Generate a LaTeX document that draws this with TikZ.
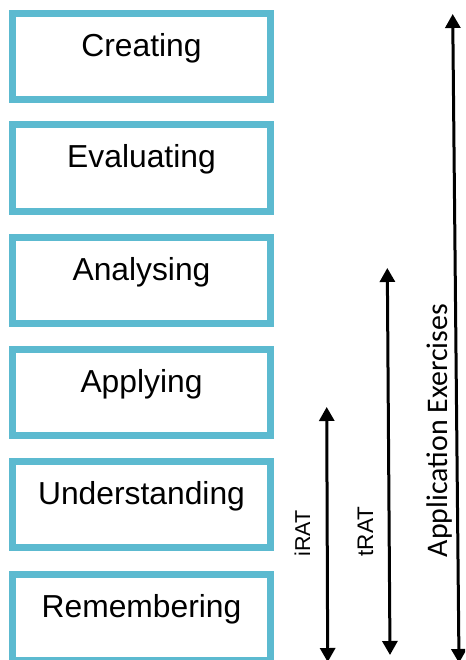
\documentclass[tikz,border=0pt]{standalone}
\usepackage{fontspec}
\setmainfont{Liberation Sans}
\newfontfamily\calib{Carlito}
\usetikzlibrary{arrows.meta}
\definecolor{bloomblue}{RGB}{92,186,208}
\begin{document}
\begin{tikzpicture}[x=1pt, y=-1pt,
  level/.style = {draw=bloomblue, line width=7pt, fill=white,
    minimum width=258pt, minimum height=86pt, inner sep=0pt, outer sep=0pt},
  leveltext/.style = {anchor=base, inner sep=0pt,
    font=\fontsize{31.8}{36}\selectfont},
  testarrow/.style = {line width=3pt, {Triangle[width=15pt,length=14pt]}-{Triangle[width=15pt,length=14pt]}},
  testtext/.style = {rotate=90, anchor=base, inner sep=0pt}]
  \useasboundingbox (0,0) rectangle (465,660);
  \clip (0,0) rectangle (465,660);
  \node[level] (creating) at (141.5,56.5) {};
  \node[level] (evaluating) at (141.5,168) {};
  \node[level] (analysing) at (141.5,280) {};
  \node[level] (applying) at (141.5,392.5) {};
  \node[level] (understanding) at (141.5,504.5) {};
  \node[level] (remembering) at (141.5,617) {};
  \node[leveltext] at ([yshift=-43pt]creating.north) {Creating};
  \node[leveltext] at ([yshift=-43pt]evaluating.north) {Evaluating};
  \node[leveltext] at ([yshift=-43pt]analysing.north) {Analysing};
  \node[leveltext] at ([yshift=-43pt]applying.north) {Applying};
  \node[leveltext] at ([yshift=-43pt]understanding.north) {Understanding};
  \node[leveltext] at ([yshift=-43pt]remembering.north) {Remembering};
  % ranges of the tests
  \coordinate (irat top) at (326.7,407);
  \coordinate (irat bottom) at (327.7,662);
  \coordinate (trat top) at (387.3,268);
  \coordinate (trat bottom) at (390,655);
  \coordinate (ae top) at (452.7,14);
  \coordinate (ae bottom) at (459,663);
  \draw[testarrow] (irat top) -- (irat bottom);
  \draw[testarrow] (trat top) -- (trat bottom);
  \draw[testarrow] (ae top) -- (ae bottom);
  \node[testtext, font=\fontsize{21.5}{24}\selectfont] (irat) at (310,533.5) {iRAT};
  \node[testtext, font=\fontsize{22.5}{24}\selectfont] (trat) at (373,531.5) {tRAT};
  \node[testtext, font=\calib\fontsize{29.9}{32}\selectfont] (ae) at (447,430.5) {Application Exercises};
\end{tikzpicture}
\end{document}
